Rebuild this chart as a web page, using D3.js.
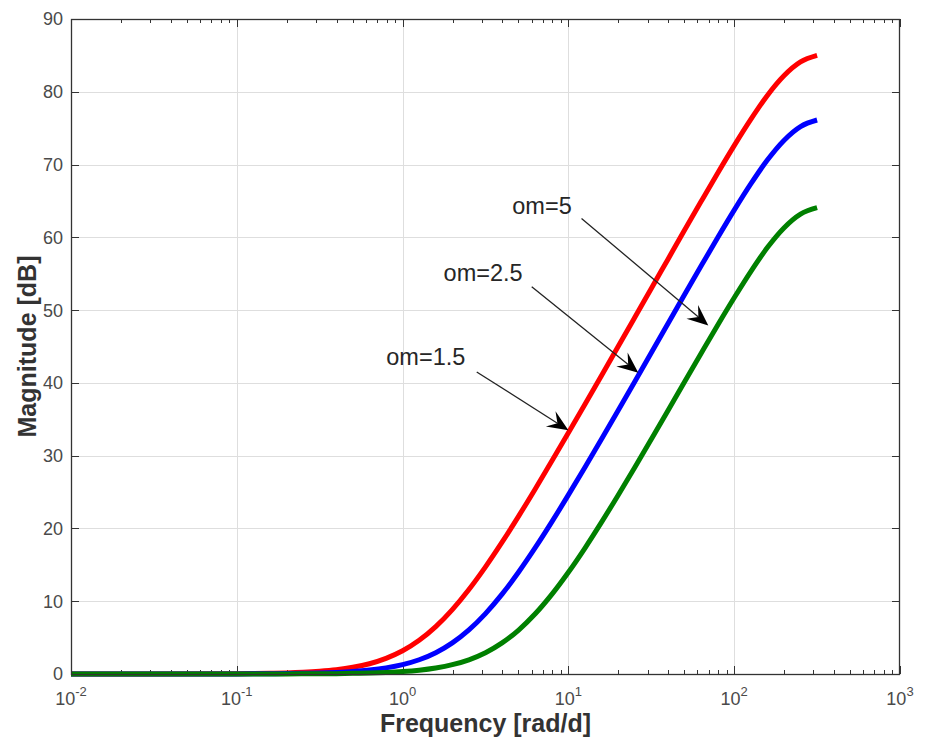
<!DOCTYPE html>
<html>
<head>
<meta charset="utf-8">
<script src="https://cdn.jsdelivr.net/npm/d3@7"></script>
<style>
  html, body { margin: 0; padding: 0; background: #ffffff; }
  svg { display: block; font-family: "Liberation Sans", Arial, sans-serif; }
</style>
</head>
<body>
<div id="chart"></div>
<script>
// frequency samples [rad/d]
var freq = [0.01, 0.1, 0.1259, 0.1585, 0.1995, 0.2512, 0.3162, 0.3981, 0.5012, 0.631, 0.7943,
  1, 1.259, 1.585, 1.995, 2.512, 3.162, 3.981, 5.012, 6.31, 7.943,
  10, 12.59, 15.85, 19.95, 25.12, 31.62, 39.81, 50.12, 63.1, 79.43,
  100, 125.9, 158.5, 199.5, 251.2, 316.2];

// magnitude [dB]
var magOm15 = [0, 0.04, 0.06, 0.10, 0.15, 0.24, 0.38, 0.59, 0.92, 1.41, 2.15,
  3.19, 4.63, 6.51, 8.85, 11.61, 14.72, 18.11, 21.70, 25.43, 29.26,
  33.15, 37.08, 41.03, 45.00, 48.99, 52.98, 56.97, 60.96, 64.91, 68.81,
  72.60, 76.20, 79.50, 82.20, 84.10, 85.00];
var magOm25 = [0, 0.01, 0.02, 0.04, 0.06, 0.09, 0.14, 0.22, 0.34, 0.54, 0.84,
  1.29, 1.96, 2.93, 4.28, 6.06, 8.30, 10.97, 14.01, 17.35, 20.90,
  24.61, 28.42, 32.30, 36.22, 40.17, 44.14, 48.12, 52.10, 56.05, 59.94,
  63.73, 67.33, 70.62, 73.32, 75.22, 76.12];
var magOm5 = [0, 0, 0.01, 0.01, 0.01, 0.02, 0.03, 0.05, 0.09, 0.14, 0.22,
  0.34, 0.53, 0.83, 1.28, 1.95, 2.92, 4.27, 6.04, 8.27, 10.94,
  13.98, 17.31, 20.87, 24.57, 28.38, 32.26, 36.18, 40.13, 44.05, 47.93,
  51.70, 55.30, 58.59, 61.29, 63.19, 64.08];

var seriesColors = ['#ff0000', '#0000ff', '#008000'];

var xTicks = [0.01, 0.1, 1, 10, 100, 1000];
var xTickExp = ['-2', '-1', '0', '1', '2', '3'];
var yTicks = [0, 10, 20, 30, 40, 50, 60, 70, 80, 90];

// text arrows: label, text position, tail, tip (data units)
var noteLabels = ['om=5', 'om=2.5', 'om=1.5'];
var noteText = [[6.93, 64.4], [3.06, 55.1], [1.38, 43.6]];
var noteTail = [[12.0, 62.6], [6.01, 53.2], [2.80, 41.5]];
var noteTip = [[69.8, 47.9], [26.4, 41.4], [10.0, 33.5]];

var W = 926, H = 742;
var M = { left: 71, right: 26, top: 19, bottom: 68 };

var svg = d3.select('#chart').append('svg')
  .attr('width', W)
  .attr('height', H);

var x = d3.scaleLog().domain([0.01, 1000]).range([M.left, W - M.right]);
var y = d3.scaleLinear().domain([0, 90]).range([H - M.bottom, M.top]);

var x0 = x.range()[0], x1 = x.range()[1];
var y0 = y.range()[0], y1 = y.range()[1];

// grid
var grid = svg.append('g').attr('stroke', '#dedede').attr('stroke-width', 1);
grid.selectAll('line.gx')
  .data(xTicks.slice(1, -1))
  .join('line')
  .attr('x1', function (d) { return Math.round(x(d)) + 0.5; })
  .attr('x2', function (d) { return Math.round(x(d)) + 0.5; })
  .attr('y1', y1).attr('y2', y0);
grid.selectAll('line.gy')
  .data(yTicks.slice(1, -1))
  .join('line')
  .attr('y1', function (d) { return Math.round(y(d)) + 0.5; })
  .attr('y2', function (d) { return Math.round(y(d)) + 0.5; })
  .attr('x1', x0).attr('x2', x1);

// minor ticks (2..9 per decade)
var minor = [];
for (var e = -2; e < 3; e++) {
  for (var m = 2; m <= 9; m++) minor.push(m * Math.pow(10, e));
}

var ticks = svg.append('g').attr('stroke', '#333333').attr('stroke-width', 1);
function vTicks(data, len) {
  ticks.append('g').selectAll('line')
    .data(data).join('line')
    .attr('x1', function (d) { return Math.round(x(d)) + 0.5; })
    .attr('x2', function (d) { return Math.round(x(d)) + 0.5; })
    .attr('y1', y0).attr('y2', y0 - len);
  ticks.append('g').selectAll('line')
    .data(data).join('line')
    .attr('x1', function (d) { return Math.round(x(d)) + 0.5; })
    .attr('x2', function (d) { return Math.round(x(d)) + 0.5; })
    .attr('y1', y1).attr('y2', y1 + len);
}
vTicks(minor, 4);
vTicks(xTicks, 8);
ticks.append('g').selectAll('line')
  .data(yTicks).join('line')
  .attr('y1', function (d) { return Math.round(y(d)) + 0.5; })
  .attr('y2', function (d) { return Math.round(y(d)) + 0.5; })
  .attr('x1', x0).attr('x2', x0 + 8);
ticks.append('g').selectAll('line')
  .data(yTicks).join('line')
  .attr('y1', function (d) { return Math.round(y(d)) + 0.5; })
  .attr('y2', function (d) { return Math.round(y(d)) + 0.5; })
  .attr('x1', x1).attr('x2', x1 - 8);

// curves
var line = d3.line()
  .x(function (d) { return x(d[0]); })
  .y(function (d) { return y(d[1]); })
  .curve(d3.curveMonotoneX);

[magOm15, magOm25, magOm5].forEach(function (vals, i) {
  svg.append('path')
    .datum(freq.map(function (f, j) { return [f, vals[j]]; }))
    .attr('d', line)
    .attr('fill', 'none')
    .attr('stroke', seriesColors[i])
    .attr('stroke-width', 5)
    .attr('stroke-linejoin', 'round');
});

// box
svg.append('rect')
  .attr('x', x0 + 0.5).attr('y', y1 + 0.5)
  .attr('width', x1 - x0 - 1).attr('height', y0 - y1)
  .attr('fill', 'none')
  .attr('stroke', '#333333')
  .attr('stroke-width', 1.3);

// tick labels
svg.append('g').selectAll('text')
  .data(yTicks).join('text')
  .attr('x', x0 - 8)
  .attr('y', function (d) { return y(d); })
  .attr('dy', '0.36em')
  .attr('text-anchor', 'end')
  .attr('font-size', 18)
  .attr('fill', '#4a4a4a')
  .text(function (d) { return d; });

var xl = svg.append('g').selectAll('text')
  .data(xTicks).join('text')
  .attr('x', function (d) { return x(d); })
  .attr('y', y0 + 31)
  .attr('text-anchor', 'middle')
  .attr('font-size', 18)
  .attr('fill', '#4a4a4a');
xl.append('tspan').text('10');
xl.append('tspan')
  .attr('dy', -9)
  .attr('font-size', 13)
  .text(function (d, i) { return xTickExp[i]; });

// axis labels
svg.append('text')
  .attr('x', (x0 + x1) / 2)
  .attr('y', H - 10)
  .attr('text-anchor', 'middle')
  .attr('font-size', 25)
  .attr('font-weight', 'bold')
  .attr('fill', '#333333')
  .text('Frequency [rad/d]');

svg.append('text')
  .attr('transform', 'translate(36,' + ((y0 + y1) / 2) + ') rotate(-90)')
  .attr('text-anchor', 'middle')
  .attr('font-size', 25)
  .attr('font-weight', 'bold')
  .attr('fill', '#333333')
  .text('Magnitude [dB]');

// annotations
var notes = svg.append('g');
noteLabels.forEach(function (label, i) {
  var tx = x(noteTail[i][0]), ty = y(noteTail[i][1]);
  var hx = x(noteTip[i][0]), hy = y(noteTip[i][1]);
  var ang = Math.atan2(hy - ty, hx - tx);
  var L = 21, Wd = 9, back = 13;
  var bx = hx - back * Math.cos(ang), by = hy - back * Math.sin(ang);

  notes.append('line')
    .attr('x1', tx).attr('y1', ty)
    .attr('x2', bx).attr('y2', by)
    .attr('stroke', '#222222')
    .attr('stroke-width', 1.3);

  var ca = Math.cos(ang), sa = Math.sin(ang);
  var pts = [
    [hx, hy],
    [hx - L * ca + Wd * sa, hy - L * sa - Wd * ca],
    [bx, by],
    [hx - L * ca - Wd * sa, hy - L * sa + Wd * ca]
  ];
  notes.append('path')
    .attr('d', 'M' + pts.map(function (p) { return p[0] + ',' + p[1]; }).join('L') + 'Z')
    .attr('fill', '#000000');

  notes.append('text')
    .attr('x', x(noteText[i][0]))
    .attr('y', y(noteText[i][1]))
    .attr('dy', '0.36em')
    .attr('text-anchor', 'middle')
    .attr('font-size', 23.5)
    .attr('fill', '#262626')
    .text(label);
});
</script>
</body>
</html>
